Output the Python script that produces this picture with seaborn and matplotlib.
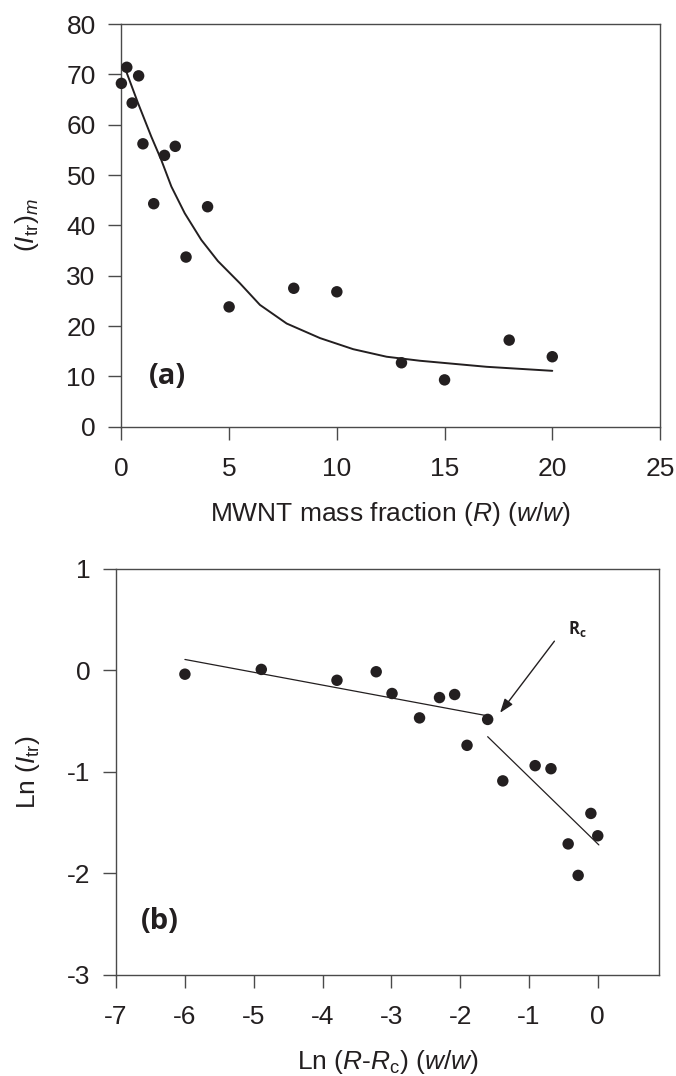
import numpy as np
import pandas as pd
import matplotlib
matplotlib.use("Agg")
import matplotlib.pyplot as plt
import seaborn as sns

# ---------------- data ----------------
# panel (a): MWNT mass fraction vs (I_tr)_m
r_frac = [0.0, 0.25, 0.8, 0.5, 1.0, 1.5, 2.0, 2.5, 3.0, 4.0, 5.0, 8.0, 10.0, 13.0, 15.0, 18.0, 20.0]
itr_m = [68.2, 71.4, 69.7, 64.3, 56.2, 44.3, 53.9, 55.7, 33.7, 43.7, 23.8, 27.5, 26.8, 12.7, 9.3, 17.2, 13.9]
# fitted curve
fit_x = [0.23, 0.77, 1.39, 1.85, 2.32, 2.94, 3.71, 4.48, 5.5, 6.43, 7.67, 9.22, 10.76, 12.31, 13.86, 16.95, 20.0]
fit_y = [70.5, 64.3, 57.6, 53.0, 47.7, 42.4, 37.1, 32.9, 28.5, 24.2, 20.5, 17.6, 15.4, 13.9, 13.1, 11.9, 11.1]

# panel (b): Ln(R-Rc) vs Ln(I_tr)
ln_r = [-6.0, -4.89, -3.79, -3.22, -2.99, -2.59, -2.30, -2.08, -1.60, -1.90, -1.38, -0.91, -0.68, -0.10, 0.0, -0.43, -0.285]
ln_itr = [-0.04, 0.007, -0.10, -0.016, -0.23, -0.47, -0.27, -0.24, -0.485, -0.74, -1.09, -0.94, -0.97, -1.41, -1.63, -1.71, -2.02]
# two linear regimes
line1_x = [-6.0, -1.6]
line1_y = [0.105, -0.45]
line2_x = [-1.6, 0.016]
line2_y = [-0.655, -1.72]

top_xticks = [0, 5, 10, 15, 20, 25]
top_yticks = [0, 10, 20, 30, 40, 50, 60, 70, 80]
bot_xticks = [-7, -6, -5, -4, -3, -2, -1, 0]
bot_yticks = [-3, -2, -1, 0, 1]

# ---------------- style ----------------
sns.set_theme(style="ticks")
plt.rcParams["font.family"] = ["Liberation Sans", "DejaVu Sans"]
plt.rcParams["axes.unicode_minus"] = False
plt.rcParams["mathtext.fontset"] = "custom"
plt.rcParams["mathtext.rm"] = "Liberation Sans"
plt.rcParams["mathtext.it"] = "Liberation Sans:italic"
plt.rcParams["mathtext.bf"] = "Open Sans:bold"

ink = "#231f20"
spine_c = "#4a4a4a"
fs = 19

fig = plt.figure(figsize=(6.76, 10.76), dpi=100)
ax1 = fig.add_axes([121.4 / 676, 1 - 426.7 / 1076, (660 - 121.4) / 676, (426.7 - 24) / 1076])
ax2 = fig.add_axes([116.1 / 676, 1 - 975 / 1076, (659 - 116.1) / 676, (975 - 568.5) / 1076])

df_a = pd.DataFrame({"x": r_frac, "y": itr_m})
df_fit = pd.DataFrame({"x": fit_x, "y": fit_y})
sns.lineplot(data=df_fit, x="x", y="y", ax=ax1, color=ink, lw=1.4, sort=False)
sns.scatterplot(data=df_a, x="x", y="y", ax=ax1, color=ink, s=68, edgecolor="none", zorder=3, clip_on=False)

df_b = pd.DataFrame({"x": ln_r, "y": ln_itr})
sns.lineplot(x=line1_x, y=line1_y, ax=ax2, color=ink, lw=0.9)
sns.lineplot(x=line2_x, y=line2_y, ax=ax2, color=ink, lw=0.9)
sns.scatterplot(data=df_b, x="x", y="y", ax=ax2, color=ink, s=68, edgecolor="none", zorder=3)

ax1.set_xlim(0, 25)
ax1.set_ylim(0, 80)
ax1.set_xticks(top_xticks)
ax1.set_yticks(top_yticks)
ax2.set_xlim(-7, 0.89)
ax2.set_ylim(-3, 1)
ax2.set_xticks(bot_xticks)
ax2.set_yticks(bot_yticks)

for ax in (ax1, ax2):
    for s in ax.spines.values():
        s.set_visible(True)
        s.set_color(spine_c)
        s.set_linewidth(1.0)
    ax.tick_params(axis="both", direction="out", length=9.5, width=1.0, color=spine_c,
                   labelsize=fs, labelcolor=ink)
    ax.tick_params(axis="x", pad=12)
    ax.tick_params(axis="y", pad=9)

ax1.set_xlabel(r"MWNT mass fraction ($R$) ($w/w$)", fontsize=fs, color=ink, labelpad=14)
ax1.set_ylabel(r"$(I_{\rm tr})_m$", fontsize=fs, color=ink, labelpad=18)
ax2.set_xlabel(r"Ln ($R$-$R_{\rm c}$) ($w/w$)", fontsize=fs, color=ink, labelpad=14)
ax2.set_ylabel(r"Ln ($I_{\rm tr}$)", fontsize=fs, color=ink, labelpad=18)

ax1.text(2.16, 9.9, "(a)", fontsize=21, fontweight="bold", family="Open Sans",
         color=ink, ha="center", va="center")
ax2.text(-6.36, -2.47, "(b)", fontsize=21, fontweight="bold", family="Open Sans",
         color=ink, ha="center", va="center")

ax2.annotate("", xy=(-1.42, -0.42), xytext=(-0.63, 0.285),
             arrowprops=dict(arrowstyle="-|>,head_length=0.7,head_width=0.25",
                             color=ink, lw=1.0, shrinkA=0, shrinkB=0))
ax2.text(-0.30, 0.40, r"$\mathbf{R_c}$", fontsize=12, color=ink, ha="center", va="center")

fig.savefig("out.png", dpi=100)
